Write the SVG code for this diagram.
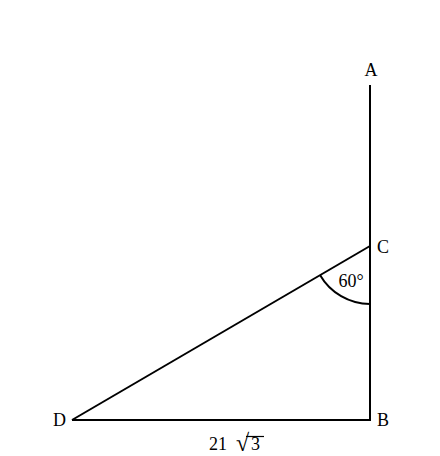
<svg xmlns="http://www.w3.org/2000/svg" width="440" height="456" viewBox="0 0 440 456">
<style>
.l{stroke:#000;stroke-width:2;fill:none}
.t{font-family:"Liberation Serif","DejaVu Serif",serif;font-size:18px;fill:#000}
</style>
<rect width="440" height="456" fill="#fff"/>
<g id="connectors">
<line class="l" x1="370" y1="85" x2="370" y2="421"/>
<line class="l" x1="72" y1="420" x2="371" y2="420"/>
<line class="l" x1="72" y1="420" x2="370" y2="246"/>
<path class="l" d="M320,275 A58,58 0 0 0 370,304"/>
</g>
<g id="A"><text class="t" x="371" y="76" text-anchor="middle">A</text></g>
<g id="C"><text class="t" x="377" y="253">C</text></g>
<g id="B"><text class="t" x="377" y="426">B</text></g>
<g id="D"><text class="t" x="53" y="426">D</text></g>
<g id="angle"><text class="t" x="351" y="287" text-anchor="middle">60°</text></g>
<g id="length">
<text class="t" x="209" y="450">21</text>
<text class="t" x="236" y="451" style="font-size:24px">√</text>
<line x1="246" y1="436.5" x2="264" y2="436.5" stroke="#000" stroke-width="1.2"/>
<text class="t" x="251" y="450">3</text>
</g>
</svg>
